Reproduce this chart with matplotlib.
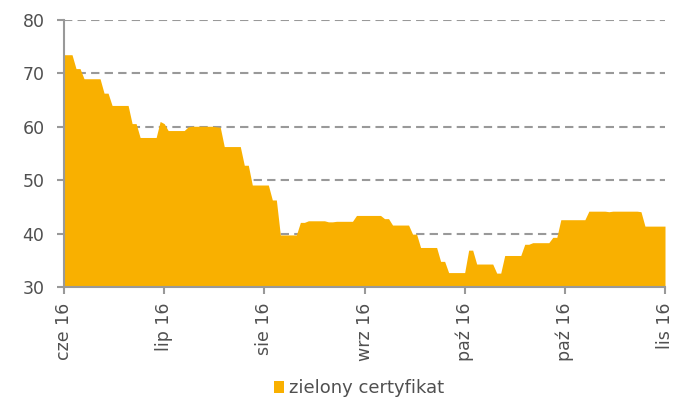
import matplotlib
matplotlib.use("Agg")
import matplotlib.pyplot as plt
import numpy as np

plt.rcParams['font.family'] = ['DejaVu Sans']

values = [
    73.5, 73.5, 73.5, 70.9, 70.9, 69.0, 69.0, 69.0, 69.0, 69.0,
    66.3, 66.3, 64.0, 64.0, 64.0, 64.0, 64.0, 60.6, 60.6, 58.0,
    58.0, 58.0, 58.0, 58.0, 61.0, 60.6, 59.3, 59.3, 59.3, 59.3,
    59.3, 60.0, 60.1, 60.1, 60.1, 60.1, 60.1, 60.1, 60.0, 59.9,
    56.3, 56.3, 56.3, 56.3, 56.3, 52.8, 52.8, 49.1, 49.1, 49.1,
    49.1, 49.1, 46.3, 46.3, 39.75, 39.75, 39.75, 39.75, 39.75, 42.1,
    42.1, 42.4, 42.4, 42.4, 42.4, 42.4, 42.2, 42.2, 42.3, 42.3,
    42.3, 42.3, 42.3, 43.4, 43.4, 43.4, 43.4, 43.4, 43.4, 43.4,
    42.8, 42.8, 41.6, 41.6, 41.6, 41.6, 41.6, 39.9, 39.9, 37.4,
    37.4, 37.4, 37.4, 37.4, 34.8, 34.8, 32.7, 32.7, 32.7, 32.7,
    32.7, 36.9, 36.9, 34.3, 34.3, 34.3, 34.3, 34.3, 32.6, 32.6,
    35.9, 35.9, 35.9, 35.9, 35.9, 38.0, 38.0, 38.3, 38.3, 38.3,
    38.3, 38.3, 39.3, 39.3, 42.6, 42.6, 42.6, 42.6, 42.6, 42.6,
    42.6, 44.2, 44.2, 44.2, 44.2, 44.2, 44.1, 44.2, 44.2, 44.2,
    44.2, 44.2, 44.2, 44.2, 44.1, 41.4, 41.4, 41.4, 41.4, 41.4,
    41.4,
]
tick_labels = ["cze 16", "lip 16", "sie 16", "wrz 16", "paź 16", "paź 16", "lis 16"]
yticks = [30, 40, 50, 60, 70, 80]
series_name = "zielony certyfikat"

color = "#F9B000"
gray = "#999999"
textc = "#505050"

fig = plt.figure(figsize=(6.88, 4.01), dpi=100)
ax = fig.add_axes([64/688, 1-287/401, (665-64)/688, (287-20)/401])

x = np.arange(len(values))
ax.fill_between(x, 30, values, color=color, linewidth=0, label=series_name, zorder=3)

ax.set_xlim(0, len(values) - 1)
ax.set_ylim(30, 80)
ax.set_yticks(yticks)
tick_pos = np.linspace(0, len(values) - 1, len(tick_labels))
ax.set_xticks(tick_pos)
ax.set_xticklabels(tick_labels, rotation=90)

for v in yticks[1:]:
    ax.axhline(v, color=gray, linestyle=(0, (4, 2.5)), linewidth=1.5, zorder=1)

for s in ["top", "right"]:
    ax.spines[s].set_visible(False)
for s in ["left", "bottom"]:
    ax.spines[s].set_color(gray)
    ax.spines[s].set_linewidth(1.5)
    ax.spines[s].set_zorder(4)

ax.tick_params(axis="both", colors=gray, width=1.5, length=5, labelsize=12.5,
               labelcolor=textc)
ax.tick_params(axis="y", pad=9)
ax.tick_params(axis="x", pad=6)

leg = fig.legend(loc="center", bbox_to_anchor=(359/688, 1-388/401), frameon=False,
                 fontsize=13, handlelength=0.55, handleheight=0.65, handletextpad=0.25,
                 labelcolor=textc)

fig.savefig("out.png", dpi=100)
